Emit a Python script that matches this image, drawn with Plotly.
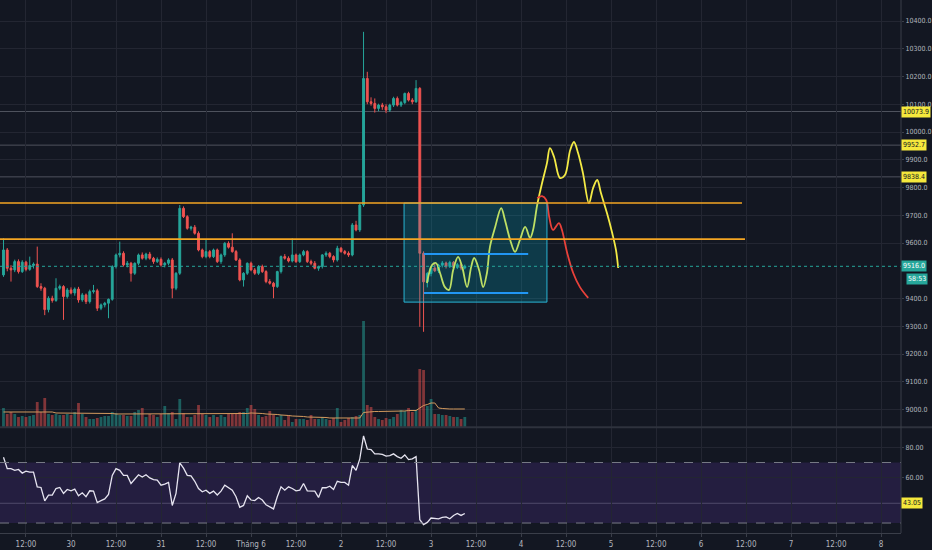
import pandas as pd
import plotly.graph_objects as go

# hourly BTC candles, first bar 29 May 06:00
first_bar = pd.Timestamp("2020-05-29 06:00")
t0 = pd.Timestamp("2020-05-30 00:00")

open_ = [9485, 9575, 9509, 9503, 9533, 9497, 9531, 9505, 9519, 9524,
         9443, 9437, 9360, 9401, 9393, 9437, 9443, 9407, 9431, 9420,
         9434, 9395, 9413, 9389, 9425, 9428, 9365, 9377, 9383, 9397,
         9515, 9557, 9563, 9521, 9527, 9491, 9527, 9557, 9545, 9560,
         9545, 9533, 9541, 9521, 9527, 9539, 9437, 9491, 9725, 9695,
         9653, 9657, 9635, 9575, 9551, 9569, 9551, 9575, 9533, 9557,
         9599, 9585, 9569, 9539, 9467, 9491, 9527, 9503, 9491, 9515,
         9497, 9461, 9455, 9443, 9497, 9551, 9545, 9535, 9557, 9533,
         9557, 9569, 9533, 9527, 9509, 9515, 9557, 9563, 9551, 9539,
         9581, 9569, 9563, 9557, 9665, 9647, 9737, 10193, 10109, 10103,
         10085, 10097, 10091, 10079, 10097, 10121, 10097, 10106, 10139, 10115,
         10109, 10157, 9563, 9460, 9490, 9510, 9500, 9520, 9528, 9515,
         9530, 9512, 9522, 9510]
high = [9617, 9582, 9520, 9540, 9541, 9538, 9536, 9551, 9530, 9587,
        9455, 9442, 9408, 9410, 9473, 9450, 9448, 9438, 9440, 9440,
        9442, 9420, 9418, 9432, 9449, 9435, 9382, 9388, 9400, 9520,
        9562, 9605, 9570, 9535, 9532, 9530, 9562, 9566, 9565, 9568,
        9550, 9548, 9548, 9532, 9545, 9546, 9495, 9737, 9732, 9700,
        9662, 9665, 9642, 9580, 9611, 9575, 9580, 9580, 9562, 9603,
        9606, 9635, 9575, 9545, 9495, 9530, 9533, 9510, 9520, 9522,
        9502, 9470, 9460, 9500, 9555, 9560, 9552, 9617, 9562, 9562,
        9575, 9574, 9540, 9535, 9518, 9560, 9570, 9568, 9556, 9590,
        9586, 9575, 9570, 9672, 9680, 9742, 10361, 10217, 10125, 10121,
        10102, 10105, 10100, 10102, 10127, 10128, 10112, 10142, 10145, 10122,
        10187, 10162, 9570, 9495, 9515, 9525, 9525, 9535, 9533, 9536,
        9535, 9528, 9527, 9522]
low = [9478, 9498, 9461, 9495, 9490, 9492, 9498, 9500, 9508, 9438,
       9428, 9340, 9350, 9385, 9388, 9430, 9323, 9400, 9415, 9410,
       9385, 9388, 9380, 9382, 9418, 9355, 9358, 9368, 9329, 9392,
       9508, 9548, 9515, 9512, 9461, 9485, 9520, 9540, 9538, 9540,
       9525, 9528, 9515, 9512, 9520, 9401, 9430, 9485, 9690, 9648,
       9645, 9630, 9570, 9545, 9545, 9545, 9546, 9528, 9525, 9550,
       9580, 9565, 9535, 9462, 9443, 9485, 9498, 9485, 9485, 9492,
       9455, 9450, 9401, 9438, 9490, 9540, 9530, 9530, 9528, 9528,
       9552, 9528, 9520, 9505, 9500, 9508, 9550, 9545, 9530, 9533,
       9565, 9558, 9550, 9552, 9642, 9640, 9730, 10100, 10095, 10070,
       10075, 10080, 10068, 10072, 10090, 10092, 10090, 10100, 10110, 10100,
       10105, 9298, 9280, 9440, 9480, 9495, 9492, 9512, 9508, 9510,
       9505, 9506, 9502, 9505]
close = [9575, 9509, 9503, 9533, 9497, 9531, 9505, 9519, 9524, 9443,
         9437, 9360, 9401, 9393, 9437, 9443, 9407, 9431, 9420, 9434,
         9395, 9413, 9389, 9425, 9428, 9365, 9377, 9383, 9397, 9515,
         9557, 9563, 9521, 9527, 9491, 9527, 9557, 9545, 9560, 9545,
         9533, 9541, 9521, 9527, 9539, 9437, 9491, 9725, 9695, 9653,
         9657, 9635, 9575, 9551, 9569, 9551, 9575, 9533, 9557, 9599,
         9585, 9569, 9539, 9467, 9491, 9527, 9503, 9491, 9515, 9497,
         9461, 9455, 9443, 9497, 9551, 9545, 9535, 9557, 9533, 9557,
         9569, 9533, 9527, 9509, 9515, 9557, 9563, 9551, 9539, 9581,
         9569, 9563, 9557, 9665, 9647, 9737, 10193, 10109, 10103, 10085,
         10097, 10091, 10079, 10097, 10121, 10097, 10106, 10139, 10115, 10109,
         10157, 9563, 9460, 9490, 9510, 9500, 9520, 9528, 9515, 9530,
         9512, 9522, 9510, 9516]

volume = [19, 13, 15, 13, 10, 11, 10, 11, 12, 25,
          15, 29, 13, 12, 13, 12, 12, 13, 12, 15,
          24, 13, 10, 8, 8, 9, 10, 11, 11, 15,
          14, 12, 12, 11, 11, 15, 17, 19, 10, 13,
          12, 10, 13, 21, 14, 15, 8, 28, 14, 10,
          10, 12, 22, 13, 12, 10, 12, 10, 12, 10,
          13, 13, 14, 15, 15, 19, 22, 18, 12, 10,
          11, 16, 12, 10, 12, 7, 12, 5, 8, 8,
          8, 7, 12, 8, 8, 10, 8, 7, 9, 19,
          5, 7, 9, 10, 11, 12, 106, 22, 20, 10,
          8, 7, 9, 8, 10, 13, 17, 16, 19, 15,
          17, 58, 57, 21, 28, 13, 13, 12, 12, 11,
          10, 10, 8, 10]
vol_ma = [15, 15, 15, 15, 15, 15, 15, 15, 15, 15,
          15, 15, 15, 15, 14, 14, 14, 14, 14, 14,
          14, 14, 14, 13.5, 13.5, 13.5, 13.5, 13.5, 13.5, 13.5,
          13, 13, 13, 13, 13, 13, 13, 13, 13, 13,
          13, 13, 13, 13, 13, 13, 13, 13.5, 13.5, 13.5,
          13.5, 13.5, 13.5, 13.5, 13.5, 13.5, 13.5, 13.5, 13.5, 13.5,
          13, 13, 13, 13, 13.5, 13.5, 14, 14, 14, 13.5,
          13, 13, 12.5, 12.5, 12, 12, 11.5, 11, 11, 10.5,
          10.5, 10, 10, 10, 9.5, 9.5, 9.5, 9, 9, 9,
          9, 9, 9, 9, 9, 9, 14.5, 15, 15.5, 15.5,
          15.5, 15.5, 15.5, 15.5, 15.5, 15.5, 16, 16, 16.5, 16.5,
          16.5, 19, 21.5, 22.5, 24, 24, 19, 18.5, 18, 18,
          18, 18, 18, 18]

rsi = [73.5, 65.9, 65.9, 64.8, 65.4, 63, 64.3, 63.7, 63.7, 53.9,
       53.5, 44.6, 48.5, 48.5, 52.8, 53.5, 49.6, 52.2, 51.3, 52.4,
       48, 50, 47.4, 51.3, 51.1, 43.5, 44.8, 45.9, 48.9, 61.5,
       65.9, 64.8, 61.5, 61.5, 56.1, 59.3, 61.9, 60.4, 61.9, 59.8,
       58.7, 58.3, 55, 55.7, 56.8, 41.6, 49.6, 69.8, 66.3, 61.5,
       61.1, 57.6, 52.8, 50.6, 51.7, 49.6, 51.1, 48.5, 51.1, 55,
       53.5, 51.7, 47.4, 40.4, 41.6, 48, 45.2, 44.8, 46.9, 45.2,
       42, 40.9, 39.3, 47.4, 53.9, 51.7, 53.9, 52.8, 51.3, 51.7,
       56.1, 51.3, 51.3, 51.1, 46.9, 53.3, 53.3, 54.3, 52.2, 57.6,
       56.8, 56.8, 55, 68, 64.8, 72.4, 87.6, 78.9, 78.5, 75.7,
       75.7, 75.3, 74.2, 74.6, 75.7, 73.9, 72.8, 75, 71.9, 72.4,
       73.9, 32.2, 28.9, 30.4, 33.3, 32.8, 32.8, 33.7, 34.1, 32.8,
       35, 36.3, 35, 36.3]

# drawings (hours after 30 May 00:00, price)
level_prices = [10073.9, 9952.7, 9838.4]
last_price = 9516.0
countdown = "58:53"
rsi_label = 43.05
orange_prices = [9744, 9614]
orange_end_h = [178.9, 179.7]
box_h = [88.8, 126.9]
box_p = [9387, 9744]
range_p = [9560, 9420]
range_h = [94.1, 121.9]
yellow_h = [94.9, 96.3, 97.3, 98.4, 99.7, 100.8, 101.9, 103.2, 104.3, 105.6,
            106.7, 107.5, 108.8, 109.9, 110.9, 111.7, 113.1, 114.7, 115.7, 117.1,
            118.4, 119.7, 121.1, 122.4, 123.2, 124.3, 125.6, 126.9, 127.7, 128.8,
            130.4, 131.7, 133.1, 134.1, 135.2, 136.5, 138.1, 139.2, 140.3, 141.3,
            142.9, 144.3, 145.3, 145.9]
yellow_p = [9456, 9521, 9528, 9492, 9441, 9431, 9503, 9550, 9514, 9441,
            9514, 9546, 9503, 9441, 9492, 9586, 9658, 9726, 9683, 9611,
            9568, 9611, 9658, 9618, 9647, 9737, 9816, 9888, 9942, 9910,
            9834, 9845, 9935, 9964, 9924, 9852, 9744, 9798, 9827, 9780,
            9708, 9636, 9575, 9510]
red_h = [124.3, 125.6, 126.7, 127.5, 128.5, 130.1, 130.9, 132.3, 133.9, 135.7, 137.9]
red_p = [9762, 9769, 9755, 9694, 9647, 9672, 9647, 9564, 9492, 9441, 9402]

price_ticks = [9000, 9100, 9200, 9300, 9400, 9600, 9700, 9800, 9900,
               10000, 10100, 10200, 10300, 10400]
rsi_ticks = [60, 80]
tick_text = ["12:00", "30", "12:00", "31", "12:00", "Tháng 6", "12:00", "2",
             "12:00", "3", "12:00", "4", "12:00", "5", "12:00", "6",
             "12:00", "7", "12:00", "8"]


def at(h):
    return t0 + pd.to_timedelta(h, unit="h")


times = pd.date_range(first_bar, periods=len(close), freq="h")
x_start, x_end = at(-18.93), at(221.3)
tick_vals = [at(-12 + 12 * k) for k in range(len(tick_text))]

UP, DOWN = "#26a69a", "#ef5350"
BG, GRID = "#131722", "#232632"
FONT = "Liberation Sans Narrow, DejaVu Sans Condensed, Liberation Sans, sans-serif"

vol_colors = ["rgba(38,166,154,0.5)" if c >= o else "rgba(239,83,80,0.5)"
              for o, c in zip(open_, close)]

fig = go.Figure()
fig.add_trace(go.Bar(x=times, y=volume, yaxis="y2", marker_color=vol_colors,
                     marker_line_width=0, width=3600000 * 0.75))
fig.add_trace(go.Scatter(x=times, y=vol_ma, yaxis="y2", mode="lines",
                         line=dict(color="#d39a5e", width=1)))
fig.add_trace(go.Candlestick(
    x=times, open=open_, high=high, low=low, close=close,
    increasing=dict(line=dict(color=UP, width=1), fillcolor=UP),
    decreasing=dict(line=dict(color=DOWN, width=1), fillcolor=DOWN),
    whiskerwidth=0,
))
fig.add_trace(go.Scatter(x=times, y=rsi, yaxis="y3", mode="lines",
                         line=dict(color="#e6e4f0", width=1.3)))

# box + range lines
fig.add_shape(type="rect", x0=at(box_h[0]), x1=at(box_h[1]), y0=box_p[0], y1=box_p[1],
              xref="x", yref="y", line=dict(color="#29b6d6", width=1),
              fillcolor="rgba(0,188,212,0.22)")
for p in range_p:
    fig.add_shape(type="line", x0=at(range_h[0]), x1=at(range_h[1]), y0=p, y1=p,
                  xref="x", yref="y", line=dict(color="#2196f3", width=2))
for p, h in zip(orange_prices, orange_end_h):
    fig.add_shape(type="line", x0=x_start, x1=at(h), y0=p, y1=p,
                  xref="x", yref="y", line=dict(color="#f5a623", width=1.6))
for p in level_prices:
    fig.add_shape(type="line", x0=0, x1=1, y0=p, y1=p, xref="paper", yref="y",
                  line=dict(color="#4e525d", width=1), layer="below")
fig.add_shape(type="line", x0=0, x1=1, y0=last_price, y1=last_price, xref="paper",
              yref="y", line=dict(color=UP, width=1, dash="dot"))

fig.add_trace(go.Scatter(x=[at(h) for h in yellow_h], y=yellow_p, mode="lines",
                         line=dict(color="#f3ea45", width=1.8, shape="spline")))
fig.add_trace(go.Scatter(x=[at(h) for h in red_h], y=red_p, mode="lines",
                         line=dict(color="#e8413a", width=1.8, shape="spline")))

# rsi band
fig.add_shape(type="rect", x0=x_start, x1=x_end, y0=30, y1=70, xref="x", yref="y3",
              fillcolor="rgba(103,58,183,0.2)", line_width=0, layer="below")
for v in [30, 70]:
    fig.add_shape(type="line", x0=0, x1=1, y0=v, y1=v, xref="paper", yref="y3",
                  line=dict(color="#787b86", width=1, dash="dash"))
fig.add_shape(type="line", x0=0, x1=1, y0=rsi_label, y1=rsi_label, xref="paper",
              yref="y3", line=dict(color="#4a4d58", width=1), layer="below")

# pane separator + right border
fig.add_shape(type="line", x0=0, x1=1.04, y0=0.1985, y1=0.1985, xref="paper",
              yref="paper", line=dict(color="#2e323d", width=2))
fig.add_shape(type="line", x0=1, x1=1, y0=0, y1=1, xref="paper", yref="paper",
              line=dict(color="#3a3e49", width=1))

labels = [(f"{p}", p, "y", "#f5e83c", "#131722") for p in level_prices]
labels.append((f"{last_price:.1f}", last_price, "y", UP, "white"))
labels.append((f"{rsi_label:.2f}", rsi_label, "y3", "#f5e83c", "#131722"))
for text, yv, yr, bg, fg in labels:
    fig.add_annotation(x=1, y=yv, xref="paper", yref=yr, text=text, showarrow=False,
                       xanchor="left", bgcolor=bg, borderpad=1,
                       font=dict(family=FONT, size=7, color=fg))
fig.add_annotation(x=1.03, y=last_price - 46, xref="paper", yref="y", text=countdown,
                   showarrow=False, xanchor="right", bgcolor=UP, borderpad=1,
                   font=dict(family=FONT, size=7, color="white"))

axis_font = dict(family=FONT, size=8, color="#b2b5be")
y_font = dict(family=FONT, size=7, color="#b2b5be")
fig.update_layout(
    width=932, height=550,
    margin=dict(l=0, r=31, t=0, b=17),
    paper_bgcolor=BG, plot_bgcolor=BG,
    showlegend=False,
    xaxis=dict(type="date", range=[x_start, x_end], anchor="y3",
               tickvals=tick_vals, ticktext=tick_text, tickfont=axis_font,
               showgrid=True, gridcolor=GRID, zeroline=False,
               showline=True, linecolor="#3a3e49", ticks="outside",
               ticklen=3, tickcolor="#3a3e49", rangeslider=dict(visible=False)),
    yaxis=dict(domain=[0.1989, 1], range=[8937, 10475.7], side="right",
               anchor="x", tickvals=price_ticks, tickformat=".1f", tickfont=y_font,
               showgrid=True, gridcolor=GRID, zeroline=False, ticks="outside",
               ticklen=2, tickcolor="#3a3e49", automargin=False),
    yaxis2=dict(overlaying="y", range=[0, 427], visible=False),
    yaxis3=dict(domain=[0, 0.197], range=[23.4, 92.8], side="right", anchor="x",
                tickvals=rsi_ticks, tickformat=".2f", tickfont=y_font,
                showgrid=True, gridcolor=GRID, zeroline=False, ticks="outside",
                ticklen=2, tickcolor="#3a3e49", automargin=False),
)

fig.write_html("out.html", config={"displayModeBar": False},
               post_script="document.body.style.margin='0';")
